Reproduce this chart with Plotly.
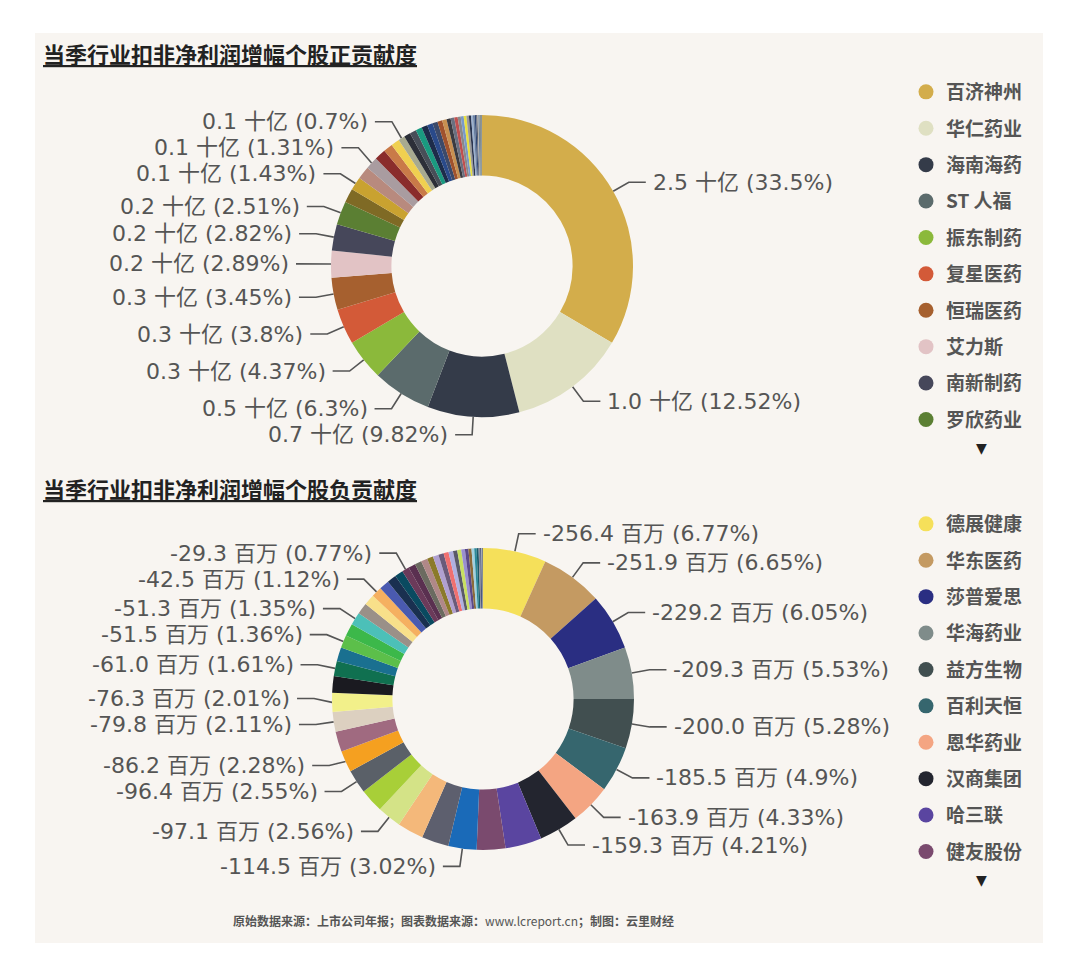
import math

import plotly.graph_objects as go

W, H = 1080, 978

# 当季行业扣非净利润增幅 —— 个股正贡献（百万元），按贡献从大到小
pos_names = ["百济神州", "华仁药业", "海南海药", "ST 人福", "振东制药",
             "复星医药", "恒瑞医药", "艾力斯", "南新制药", "罗欣药业"]
pos_values = [2546.0, 951.5, 746.3, 478.8, 332.1, 288.8, 262.2, 219.6, 214.3, 190.8,
              114.0, 108.7, 104.9, 99.6, 91.2, 76.0, 68.4, 53.2,
              53.0, 52.5, 51.0, 48.0, 45.0, 42.0, 39.0, 36.0, 33.0, 30.0,
              27.5, 25.0, 24.0, 22.0, 20.0, 18.0, 15.0, 13.5, 12.0, 10.5,
              9.0, 7.5, 6.0, 4.5, 4.0, 3.5, 2.1]
pos_colors = ["#d3ad4b", "#dfe0c2", "#343b49", "#5b6b6c", "#8bb93b",
              "#d35a38", "#a6602f", "#e2c3c5", "#46475a", "#5b7f33",
              "#7f6a25", "#c9a230", "#b88a7e", "#a99ca0", "#8a2c2c",
              "#c97a48", "#f0d050", "#a8aa90",
              "#2c2f38", "#484e58", "#1a9a80", "#1d2c4a", "#2a4a8a", "#3c4a6a",
              "#a0522d", "#c89050", "#3a3a40", "#6a7080", "#c05050", "#8a8a8a",
              "#7a9ac8", "#e8e040", "#9a9a9a", "#2a3550", "#9ab0d0", "#6a80a0",
              "#304878", "#5a6070", "#b0b0b0", "#4a6a8a", "#8a9aa0", "#3a4a5a",
              "#c0b080", "#5a7a9a", "#2a3a4a"]
pos_labeled = [0, 1, 2, 3, 4, 5, 6, 7, 8, 9, 11, 13, 17]

# 个股负贡献（百万元）
neg_names = ["德展健康", "华东医药", "莎普爱思", "华海药业", "益方生物",
             "百利天恒", "恩华药业", "汉商集团", "哈三联", "健友股份"]
neg_values = [-256.4, -251.9, -229.2, -209.3, -200.0, -185.5, -163.9, -159.3, -147.5, -116.0,
              -114.5, -109.8, -106.0, -97.1, -96.8, -96.42, -86.2, -83.0, -79.8, -76.28,
              -68.0, -61.0, -56.0, -51.5, -51.4, -51.3, -46.0, -44.0, -42.5, -40.0,
              -37.0, -34.0, -29.3,
              -28.5, -27.5, -26.0, -24.5, -23.0, -21.5, -20.0, -18.5, -17.0, -16.0,
              -15.0, -14.0, -12.5, -11.0, -9.5, -8.0, -6.5, -5.0, -3.5, -2.6]
neg_colors = ["#f5e05a", "#c49a62", "#2a2e82", "#7f8c8a", "#414f50",
              "#36666e", "#f4a582", "#23252f", "#5a45a0", "#7a4a6e",
              "#1a6ab8", "#5d5f6e", "#f4b87a", "#d4e387", "#a8cf38",
              "#5a6068", "#f5a020", "#a06a80", "#dcd0c0", "#f2f08a",
              "#1a1a20", "#107050", "#1a7090", "#5cbf4a", "#3cb84a",
              "#4cc0b8", "#9a9088", "#f8e08a", "#f5b060", "#4a5ab0",
              "#1a3050", "#0a4a60", "#6b3a5a",
              "#5a3050", "#6b6b60", "#b08888", "#8b7a2a", "#b0a0d0", "#6a5a7a",
              "#f07070", "#b0b0e0", "#5a5a6a", "#c8e060", "#9a90d0", "#5a4a8a",
              "#8b6a3a", "#a0d0e0", "#2a8a9a", "#1a5a6a", "#8a8a9a", "#2a3a6a",
              "#c0c0c8", "#3a4a5a"]
neg_labeled = [0, 1, 2, 3, 4, 5, 6, 7, 10, 13, 15, 16, 18, 19, 21, 23, 25, 28, 32]

TITLE_POS = "当季行业扣非净利润增幅个股正贡献度"
TITLE_NEG = "当季行业扣非净利润增幅个股负贡献度"
SOURCE = ("<b>原始数据来源：上市公司年报；图表数据来源：</b>www.lcreport.cn"
          "<b>；制图：云里财经</b>")

LABEL_FONT = "DejaVu Sans, Noto Sans CJK SC, sans-serif"
CJK_FONT = "Noto Sans CJK SC, sans-serif"
TEXT_GRAY = "#555555"
R_OUT = 151
HOLE = 0.6


def pct_text(p):
    return f"{p:.2f}".rstrip("0").rstrip(".")


def outside_labels(values, labeled, texts, cx, cy, len1=18, len2=17, gap=26):
    total = sum(values)
    cum = 0.0
    items = []
    for i, v in enumerate(values):
        mid = (cum + v / 2) / total * 2 * math.pi
        cum += v
        if i not in labeled:
            continue
        s, c = math.sin(mid), math.cos(mid)
        items.append(dict(
            side=1 if s >= 0 else -1,
            x0=cx + R_OUT * s, y0=cy - R_OUT * c,
            x1=cx + (R_OUT + len1) * s, y=cy - (R_OUT + len1) * c,
            text=texts[i],
        ))
    # 简单的防重叠：同侧标签保持最小行距
    right = sorted([d for d in items if d["side"] > 0], key=lambda d: d["y"])
    for a, b in zip(right, right[1:]):
        b["y"] = max(b["y"], a["y"] + gap)
    left = sorted([d for d in items if d["side"] < 0], key=lambda d: -d["y"])
    for a, b in zip(left, left[1:]):
        b["y"] = min(b["y"], a["y"] - gap)

    xs, ys, notes = [], [], []
    for d in items:
        x2 = d["x1"] + d["side"] * len2
        xs += [d["x0"], d["x1"], x2, None]
        ys += [d["y0"], d["y"], d["y"], None]
        notes.append(dict(
            x=x2 + d["side"] * 5, y=d["y"], xref="x", yref="y",
            text=d["text"], showarrow=False,
            xanchor="left" if d["side"] > 0 else "right", yanchor="middle",
            font=dict(family=LABEL_FONT, size=22, color=TEXT_GRAY),
        ))
    line = go.Scatter(x=xs, y=ys, mode="lines", line=dict(color=TEXT_GRAY, width=1.6),
                      hoverinfo="skip", showlegend=False)
    return line, notes


def pie_domain(cx, cy):
    return dict(x=[(cx - R_OUT) / W, (cx + R_OUT) / W],
                y=[1 - (cy + R_OUT) / H, 1 - (cy - R_OUT) / H])


pos_total = sum(pos_values)
pos_texts = [f"{v / 1000:.1f} 十亿 ({pct_text(v / pos_total * 100)}%)" for v in pos_values]
neg_abs = [abs(v) for v in neg_values]
neg_total = sum(neg_abs)
neg_texts = [f"{v:.1f} 百万 ({pct_text(abs(v) / neg_total * 100)}%)" for v in neg_values]

TOP_C = (482, 266)
BOT_C = (483, 699)

fig = go.Figure()

fig.add_trace(go.Pie(
    values=pos_values,
    labels=[pos_names[i] if i < len(pos_names) else f"正{i + 1}" for i in range(len(pos_values))],
    marker=dict(colors=pos_colors, line=dict(width=0)),
    hole=HOLE, sort=False, direction="clockwise", rotation=0,
    textinfo="none", showlegend=False, domain=pie_domain(*TOP_C),
))
fig.add_trace(go.Pie(
    values=neg_abs,
    labels=[neg_names[i] if i < len(neg_names) else f"负{i + 1}" for i in range(len(neg_values))],
    marker=dict(colors=neg_colors, line=dict(width=0)),
    hole=HOLE, sort=False, direction="clockwise", rotation=0,
    textinfo="none", showlegend=False, domain=pie_domain(*BOT_C),
))

top_line, top_notes = outside_labels(pos_values, pos_labeled, pos_texts, *TOP_C)
bot_line, bot_notes = outside_labels(neg_abs, neg_labeled, neg_texts, *BOT_C)
fig.add_trace(top_line)
fig.add_trace(bot_line)

# 图例（每个图只显示前 10 项，其余需滚动）
for name, color in zip(pos_names, pos_colors):
    fig.add_trace(go.Scatter(x=[None], y=[None], mode="markers", name=name,
                             marker=dict(size=15, color=color), legend="legend",
                             legendgroup="p" + name, hoverinfo="skip"))
for name, color in zip(neg_names, neg_colors):
    fig.add_trace(go.Scatter(x=[None], y=[None], mode="markers", name=name,
                             marker=dict(size=15, color=color), legend="legend2",
                             legendgroup="n" + name, hoverinfo="skip"))

legend_style = dict(
    xanchor="left", yanchor="top", bgcolor="rgba(0,0,0,0)",
    font=dict(family=CJK_FONT, size=19, color=TEXT_GRAY, weight="bold"),
    itemsizing="trace", tracegroupgap=8.7, itemclick=False, itemdoubleclick=False,
)

annotations = top_notes + bot_notes
for title, y in [(TITLE_POS, 53), (TITLE_NEG, 488)]:
    annotations.append(dict(
        x=41, y=y, xref="x", yref="y", text=title, showarrow=False,
        xanchor="left", yanchor="middle",
        font=dict(family=CJK_FONT, size=22, color="#222222", weight="bold",
                  lineposition="under"),
    ))
for y in [448, 880]:
    annotations.append(dict(x=981, y=y, xref="x", yref="y", text="▼", showarrow=False,
                            font=dict(family=LABEL_FONT, size=14, color="#222222")))
annotations.append(dict(
    x=453, y=920, xref="x", yref="y", text=SOURCE, showarrow=False,
    xanchor="center", yanchor="middle",
    font=dict(family=CJK_FONT, size=12, color=TEXT_GRAY),
))

fig.update_layout(
    width=W, height=H,
    margin=dict(l=0, r=0, t=0, b=0),
    paper_bgcolor="white",
    plot_bgcolor="rgba(0,0,0,0)",
    xaxis=dict(range=[0, W], visible=False, fixedrange=True),
    yaxis=dict(range=[H, 0], visible=False, fixedrange=True),
    shapes=[dict(type="rect", xref="x", yref="y", x0=35, y0=33, x1=1043, y1=943,
                 fillcolor="#f8f5f1", line=dict(width=0), layer="below")],
    annotations=annotations,
    legend=dict(x=906 / W, y=1 - 73 / H, **legend_style),
    legend2=dict(x=906 / W, y=1 - 505 / H, **legend_style),
    hovermode="closest",
)

fig.write_html("out.html", config={"displayModeBar": False},
               post_script="document.body.style.margin='0';")
